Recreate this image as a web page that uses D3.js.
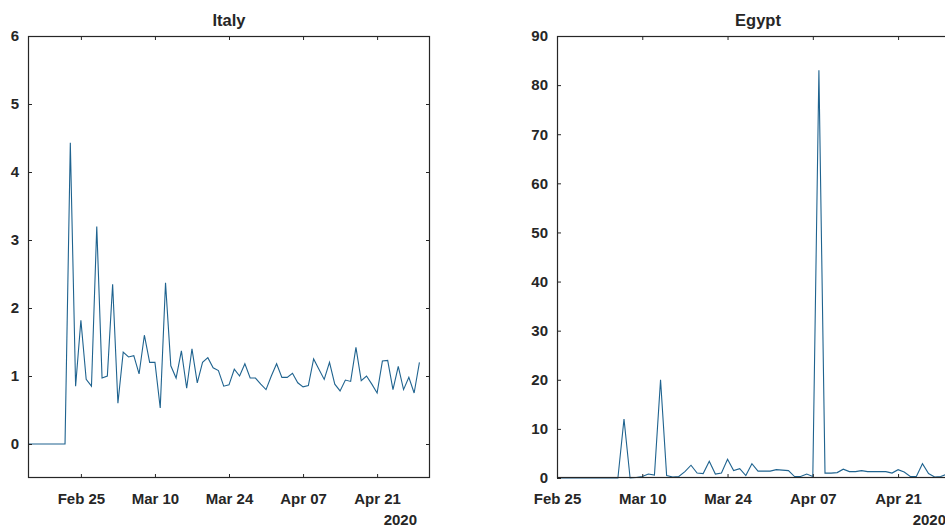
<!DOCTYPE html>
<html>
<head>
<meta charset="utf-8">
<script src="https://cdn.jsdelivr.net/npm/d3@7"></script>
<style>
  html, body { margin: 0; padding: 0; background: #fff; }
  svg { display: block; }
  text { font-family: "Liberation Sans", Arial, Helvetica, sans-serif; font-weight: bold; fill: #262626; }
</style>
</head>
<body>
<svg id="fig" width="945" height="531"></svg>
<script>
// Daily series (one value per day, starting at the given first date)
const italyStart = "2020-02-15";
const italyValues = [
  0, 0, 0, 0, 0, 0, 0, 0, 4.43, 0.85,
  1.82, 0.95, 0.85, 3.2, 0.97, 1.0, 2.35, 0.6, 1.35, 1.28,
  1.3, 1.03, 1.6, 1.2, 1.2, 0.53, 2.37, 1.15, 0.97, 1.37,
  0.82, 1.4, 0.9, 1.2, 1.27, 1.12, 1.08, 0.85, 0.87, 1.1,
  1.0, 1.18, 0.97, 0.97, 0.88, 0.8, 1.0, 1.18, 0.98, 0.98,
  1.04, 0.9, 0.84, 0.86, 1.25, 1.1, 0.95, 1.2, 0.88, 0.78,
  0.94, 0.92, 1.42, 0.93, 1.0, 0.88, 0.75, 1.22, 1.23, 0.8,
  1.14, 0.8, 0.98, 0.75, 1.2
];

const egyptStart = "2020-02-25";
const egyptValues = [
  0, 0, 0, 0, 0, 0, 0, 0, 0, 0,
  0, 12, 0, 0.1, 0.3, 0.8, 0.6, 20, 0.5, 0.2,
  0.3, 1.3, 2.6, 1.0, 0.9, 3.4, 0.8, 1.0, 3.8, 1.5,
  1.9, 0.5, 2.9, 1.4, 1.4, 1.4, 1.7, 1.6, 1.5, 0.3,
  0.3, 0.8, 0.3, 83, 1.0, 1.0, 1.1, 1.8, 1.3, 1.3,
  1.5, 1.3, 1.3, 1.3, 1.3, 1.0, 1.7, 1.2, 0.3, 0.3,
  2.9, 0.9, 0.2, 0.3, 0.8
];

// Axis ticks
const dateTicks = ["2020-02-25", "2020-03-10", "2020-03-24", "2020-04-07", "2020-04-21"];
const italyYTicks = [0, 1, 2, 3, 4, 5, 6];
const egyptYTicks = [0, 10, 20, 30, 40, 50, 60, 70, 80, 90];
const yearLabel = "2020";

const parse = d3.utcParse("%Y-%m-%d");
const fmt = d3.utcFormat("%b %d");

function series(start, values) {
  const t0 = parse(start);
  return values.map((v, i) => ({ date: d3.utcDay.offset(t0, i), value: v }));
}

const svg = d3.select("#fig");
svg.append("rect").attr("width", 945).attr("height", 531).attr("fill", "#fff");

const lineColor = "#1f638f";
const axisColor = "#262626";

function panel(opts) {
  const { id, title, left, right, top, bottom, xDomain, yDomain, yTicks, data } = opts;
  const x = d3.scaleUtc().domain(xDomain.map(parse)).range([left, right]);
  const y = d3.scaleLinear().domain(yDomain).range([bottom, top]);
  const g = svg.append("g");

  g.append("clipPath").attr("id", "clip-" + id)
    .append("rect").attr("x", left).attr("y", top - 1)
    .attr("width", right - left).attr("height", bottom - top + 2);

  const line = d3.line().x(d => x(d.date)).y(d => y(d.value));
  g.append("path")
    .datum(data)
    .attr("clip-path", `url(#clip-${id})`)
    .attr("fill", "none")
    .attr("stroke", lineColor)
    .attr("stroke-width", 1.1)
    .attr("d", line);

  const tickDates = dateTicks.map(parse);

  const styleAxis = sel => {
    sel.select(".domain").remove();
    sel.selectAll(".tick line").attr("stroke", axisColor).attr("stroke-width", 1);
    sel.selectAll(".tick text").attr("fill", axisColor).style("font-size", "15px")
      .style("font-family", "'Liberation Sans', Arial, sans-serif").style("font-weight", "bold");
  };

  g.append("g").attr("transform", `translate(0,${bottom})`)
    .call(d3.axisBottom(x).tickValues(tickDates).tickFormat(fmt)
      .tickSizeInner(-4).tickSizeOuter(0).tickPadding(15))
    .call(styleAxis);
  g.append("g").attr("transform", `translate(0,${top})`)
    .call(d3.axisTop(x).tickValues(tickDates).tickFormat("")
      .tickSizeInner(-4).tickSizeOuter(0))
    .call(styleAxis);
  g.append("g").attr("transform", `translate(${left},0)`)
    .call(d3.axisLeft(y).tickValues(yTicks).tickFormat(d3.format("d"))
      .tickSizeInner(-4).tickSizeOuter(0).tickPadding(9))
    .call(styleAxis);
  g.append("g").attr("transform", `translate(${right},0)`)
    .call(d3.axisRight(y).tickValues(yTicks).tickFormat("")
      .tickSizeInner(-4).tickSizeOuter(0))
    .call(styleAxis);

  // Box
  g.append("rect")
    .attr("x", left + 0.5).attr("y", top + 0.5)
    .attr("width", right - left - 1).attr("height", bottom - top - 1)
    .attr("fill", "none").attr("stroke", axisColor).attr("stroke-width", 1.2);

  g.append("text")
    .attr("x", (left + right) / 2).attr("y", top - 10)
    .attr("text-anchor", "middle").style("font-size", "16.5px")
    .text(title);

  g.append("text")
    .attr("x", right - 13).attr("y", bottom + 47)
    .attr("text-anchor", "end").style("font-size", "15px")
    .text(yearLabel);
}

panel({
  id: "italy", title: "Italy",
  left: 28, right: 430, top: 36, bottom: 478,
  xDomain: ["2020-02-15", "2020-05-01"], yDomain: [-0.5, 6], yTicks: italyYTicks,
  data: series(italyStart, italyValues)
});

panel({
  id: "egypt", title: "Egypt",
  left: 557, right: 959, top: 36, bottom: 478,
  xDomain: ["2020-02-25", "2020-05-01"], yDomain: [0, 90], yTicks: egyptYTicks,
  data: series(egyptStart, egyptValues)
});
</script>
</body>
</html>
